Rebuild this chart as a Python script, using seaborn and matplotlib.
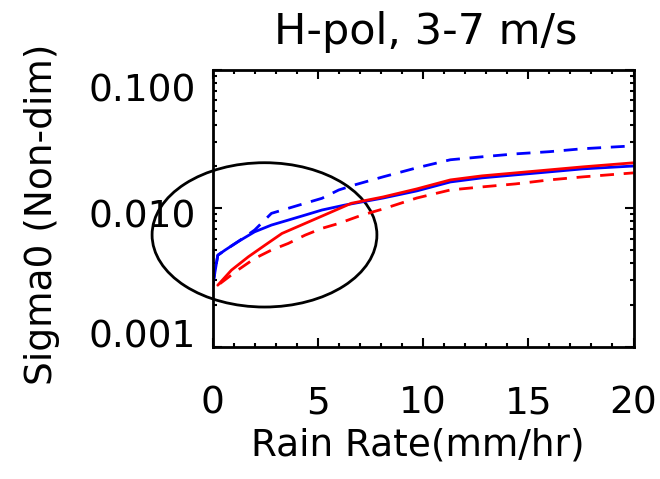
import matplotlib
matplotlib.use("Agg")
import matplotlib.pyplot as plt
import matplotlib.transforms as mtransforms
from matplotlib.patches import Ellipse
from matplotlib.ticker import MultipleLocator, LogLocator, FixedLocator, FixedFormatter, NullFormatter
import numpy as np
import pandas as pd
import seaborn as sns

# rain rate (mm/hr) and sigma0
rr_blue_solid = [0.0, 0.25, 0.6, 1.2, 2.0, 2.8, 3.6, 4.4, 5.2, 6.3, 8.1, 9.7, 11.3, 12.8, 14.4, 16.0, 17.6, 20.0]
s0_blue_solid = [0.00269, 0.00456, 0.00497, 0.00570, 0.00673, 0.00753, 0.00818, 0.00889, 0.00967, 0.01051,
                 0.0118, 0.01328, 0.01542, 0.01650, 0.01735, 0.01823, 0.01917, 0.0201]

rr_blue_dash = [0.0, 0.25, 0.6, 1.2, 2.0, 2.8, 3.6, 4.4, 5.2, 6.0, 6.75, 8.1, 9.7, 11.3, 12.8, 14.4, 16.0, 17.6, 20.0]
s0_blue_dash = [0.00269, 0.00456, 0.00497, 0.00570, 0.00693, 0.00915, 0.00995, 0.01082, 0.01175, 0.0135, 0.01468,
                0.01678, 0.0195, 0.0223, 0.02342, 0.0246, 0.0255, 0.0268, 0.0281]

rr_red_solid = [0.25, 0.9, 1.7, 2.5, 3.3, 4.4, 5.5, 6.6, 8.1, 9.7, 11.3, 12.8, 14.4, 16.0, 17.6, 20.0]
s0_red_solid = [0.00277, 0.00356, 0.00444, 0.00540, 0.00655, 0.00774, 0.00915, 0.01082, 0.01201, 0.01373,
                0.01595, 0.01706, 0.01793, 0.01885, 0.01982, 0.0212]

rr_red_dash = [0.35, 1.2, 2.0, 2.8, 3.6, 4.4, 5.2, 6.0, 7.1, 8.1, 9.7, 11.3, 12.8, 14.4, 16.0, 17.6, 20.0]
s0_red_dash = [0.00284, 0.00356, 0.00432, 0.00497, 0.00555, 0.00637, 0.00713, 0.00774, 0.00889, 0.00984,
               0.0118, 0.0135, 0.0142, 0.01493, 0.01595, 0.01678, 0.01793]

ytick_vals = [0.001, 0.01, 0.1]
ytick_labels = ["0.001", "0.010", "0.100"]
xtick_vals = [0, 5, 10, 15, 20]

sns.set_style("ticks")
plt.rcParams["font.family"] = ["DejaVu Sans"]
plt.rcParams["font.size"] = 27
plt.rcParams["text.color"] = "black"
plt.rcParams["axes.labelcolor"] = "black"

fig = plt.figure(figsize=(6.6, 4.79), dpi=100)
ax = fig.add_axes([212.5 / 660, 1 - 346.5 / 479, 421 / 660, 277 / 479])

dash = (0, (5, 3.5))
sns.lineplot(x=rr_blue_dash, y=s0_blue_dash, ax=ax, color="#0000ff", lw=2, linestyle=dash, errorbar=None)
sns.lineplot(x=rr_red_dash, y=s0_red_dash, ax=ax, color="#ff0000", lw=2, linestyle=dash, errorbar=None)
sns.lineplot(x=rr_blue_solid, y=s0_blue_solid, ax=ax, color="#0000ff", lw=2, errorbar=None)
sns.lineplot(x=rr_red_solid, y=s0_red_solid, ax=ax, color="#ff0000", lw=2, errorbar=None)

ax.set_yscale("log")
ax.set_xlim(0, 20)
ax.set_ylim(0.001, 0.1)

ax.xaxis.set_major_locator(FixedLocator(xtick_vals))
ax.xaxis.set_minor_locator(MultipleLocator(1))
ax.yaxis.set_major_locator(FixedLocator(ytick_vals))
ax.yaxis.set_major_formatter(FixedFormatter(ytick_labels))
ax.yaxis.set_minor_locator(LogLocator(base=10, subs=np.arange(2, 10)))
ax.yaxis.set_minor_formatter(NullFormatter())

ax.tick_params(which="both", direction="in", top=True, right=True, width=1.5, colors="black")
ax.tick_params(which="major", length=6.5)
ax.tick_params(which="minor", length=3.2)
ax.tick_params(axis="x", which="major", pad=28, labelsize=27)
ax.tick_params(axis="y", which="major", pad=12, labelsize=27)
for sp in ax.spines.values():
    sp.set_linewidth(2)
    sp.set_color("black")

# IDL style: end labels pulled inside the axis range
offsets = {"0.100": -18, "0.010": -5, "0.001": 13}
fig.canvas.draw()
for lab in ax.get_yticklabels():
    dy = offsets.get(lab.get_text(), 0)
    lab.set_transform(lab.get_transform() + mtransforms.ScaledTranslation(0, dy / 100, fig.dpi_scale_trans))

ax.set_xlabel("Rain Rate(mm/hr)", fontsize=27, va="center", color="black")
ax.xaxis.set_label_coords(0.488, -0.357)
ax.set_ylabel("Sigma0 (Non-dim)", fontsize=27, va="center", color="black")
ax.yaxis.set_label_coords(-0.405, 0.477)

fig.text(426 / 660, 1 - 44 / 479, "H-pol, 3-7 m/s", fontsize=31, ha="center", va="baseline", color="black")

ax.add_patch(Ellipse((0.1235, 0.403), 0.534, 0.521, transform=ax.transAxes,
                     fill=False, lw=2, ec="black", clip_on=False))

fig.savefig("out.png", dpi=100)
